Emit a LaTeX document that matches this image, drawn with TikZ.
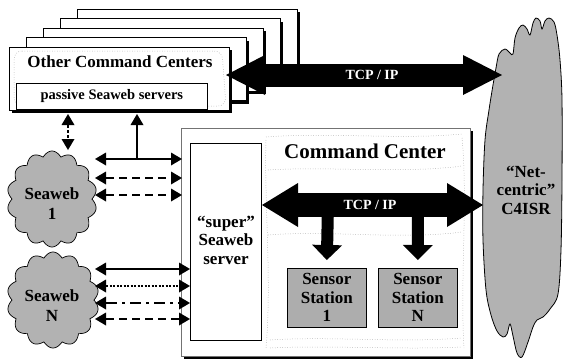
\documentclass[tikz,border=0pt]{standalone}
\usepackage{fontspec}
\setmainfont{Liberation Serif}
\usetikzlibrary{arrows.meta,calc}
\begin{document}
\begin{tikzpicture}[x=1pt,y=-1pt,
  tipS/.tip={Triangle[length=11pt,width=13pt,line width=0pt]},
  linkarr/.style={line width=2.4pt,tipS-tipS},
  uparr/.style={line width=2.4pt,-tipS},
  bigtip/.tip={Triangle[length=39pt,width=40pt,line width=0pt]},
  midtip/.tip={Triangle[length=36pt,width=44pt,line width=0pt]},
  downtip/.tip={Triangle[length=15pt,width=30pt,line width=0pt]},
  bigarr/.style={line width=23pt,bigtip-bigtip},
  midarr/.style={line width=24pt,midtip-midtip},
  downarr/.style={line width=12pt,-downtip},
  whitebox/.style={draw=black,line width=0.7pt,fill=white,inner sep=0pt,anchor=north west},
  sensorbox/.style={draw=black,line width=0.7pt,fill=black!32,inner sep=0pt,anchor=north west,
    minimum width=79pt,minimum height=59pt,align=center,font=\fontsize{17}{18.5}\selectfont\bfseries},
  cloudfill/.style={draw=black,line width=0.7pt,fill=black!30},
  texture/.style={draw=black!45,line width=0.5pt,dotted},
  lbl/.style={font=\fontsize{17}{18.5}\selectfont\bfseries,align=center,inner sep=0pt}
]
\useasboundingbox (0,0) rectangle (565,360);

% stacked other command centers (back to front)
\foreach \i in {4,3,2,1} {
  \fill (9+17*\i+3,47-9.4*\i+3) rectangle (229+17*\i+3,110-9.4*\i+3);
  \draw[fill=white,line width=0.7pt] (9+17*\i,47-9.4*\i) rectangle (229+17*\i,110-9.4*\i);
}
\fill (12,50) rectangle (232,113);
\node[whitebox,minimum width=220pt,minimum height=63pt] (occ) at (9,47) {};
\draw[texture,rounded corners=8pt] (14,51) -- (222,51) -- (226,106) -- (14,106) -- cycle;
\node[lbl,font=\fontsize{17}{18}\selectfont\bfseries] (occt) at (120,62) {Other Command Centers};
\node[whitebox,minimum width=191pt,minimum height=26pt,font=\fontsize{14.5}{16}\selectfont\bfseries] (pass) at (16,83) {passive Seaweb servers};

% Net-centric C4ISR cloud
\draw[cloudfill,line width=0.8pt] plot[smooth cycle,tension=0.55] coordinates {
 (496,68) (499,54) (505,49) (510,53) (513,54) (515,38) (519,28) (523,25) (527,29) (530,35)
 (533,23) (536,18) (540,21) (542,29) (545,21) (549,18) (554,22) (557,35) (560,60) (562,100)
 (562,180) (561,250) (558,294) (550,309) (543,317) (537,320) (533,327) (528,342) (522,357)
 (517,353) (513,336) (510,324) (507,334) (503,337) (497,331) (491,315) (486,290) (483,240)
 (483,190) (485,140) (489,110) (493,85)};
\node[lbl] (c4) at (526,190) {``Net-\\centric''\\C4ISR};

% big TCP/IP arrow
\coordinate (tcpL) at (226,75);
\coordinate (tcpR) at (502,75);
\draw[bigarr] (tcpL) -- (tcpR);
\node[lbl,text=white,font=\fontsize{14}{16}\selectfont\bfseries] (tcp1) at (372,75) {TCP / IP};

% command center
\fill (184,131) rectangle (473,359);
\node[whitebox,draw=black!55,line width=0.6pt,minimum width=289pt,minimum height=228pt] (cc) at (181,128) {};
\draw[texture] (266,137) .. controls (330,132) and (400,140) .. (462,134);
\draw[texture] (268,170) .. controls (330,166) and (400,174) .. (462,166);
\draw[texture] (266,140) .. controls (264,200) and (272,280) .. (266,348);
\draw[texture] (462,138) .. controls (468,200) and (460,280) .. (464,348);
\draw[texture] (268,235) .. controls (330,230) and (400,240) .. (462,232);
\draw[texture] (270,340) .. controls (330,336) and (400,343) .. (462,338);
\draw[texture] (270,348) .. controls (330,345) and (400,350) .. (462,347);
\node[lbl,font=\fontsize{21}{24}\selectfont\bfseries] (cct) at (365,151) {Command Center};

\node[whitebox,minimum width=71pt,minimum height=197pt] (ss) at (190,143) {};
\node[lbl] (sst) at (226,240) {``super''\\Seaweb\\server};

% sensor stations
\node[sensorbox] (s1) at (287,268) {Sensor\\Station\\1};
\node[sensorbox] (sN) at (378,268) {Sensor\\Station\\N};

% inner TCP/IP arrow
\coordinate (tcp2L) at (262,205);
\coordinate (tcp2R) at (483,205);
\draw[midarr] (tcp2L) -- (tcp2R);
\coordinate (d1) at (328,205);
\coordinate (dN) at (418,205);
\draw[downarr] (d1) -- ($(s1.north |- d1)+(0,55)$);
\draw[downarr] (dN) -- ($(sN.north |- dN)+(0,55)$);
\node[lbl,text=white,font=\fontsize{14}{16}\selectfont\bfseries] (tcp2) at (370,205) {TCP / IP};

% Seaweb clouds
\draw[cloudfill] plot[domain=0:360,samples=337,variable=\t]
  ({52+(40+5*abs(sin(7*\t)))*cos(\t)},{199+(43+5*abs(sin(7*\t)))*sin(\t)}) -- cycle;
\node[lbl,font=\fontsize{17}{20}\selectfont\bfseries] (sw1) at (52,204) {Seaweb\\1};
\draw[cloudfill] plot[domain=0:360,samples=337,variable=\t]
  ({53+(41+5*abs(sin(7*\t)))*cos(\t)},{300+(43+5*abs(sin(7*\t)))*sin(\t)}) -- cycle;
\node[lbl,font=\fontsize{17}{20}\selectfont\bfseries] (swN) at (52,306) {Seaweb\\N};

% links
\coordinate (v1t) at (68,114);
\coordinate (v1b) at (68,150);
\draw[linkarr,dash pattern=on 3pt off 2pt] (v1t) -- (v1b);
\coordinate (a1L) at (95,159); \coordinate (a1R) at (182,159);
\coordinate (a2L) at (95,178); \coordinate (a2R) at (182,178);
\coordinate (a3L) at (95,195); \coordinate (a3R) at (182,195);
\coordinate (up) at (137,159);
\coordinate (upT) at (137,114);
\draw[linkarr] (a1L) -- (a1R);
\draw[uparr] (up) -- (upT);
\draw[linkarr,dash pattern=on 8pt off 5pt] (a2L) -- (a2R);
\draw[linkarr,dash pattern=on 8pt off 5pt] (a3L) -- (a3R);

\coordinate (b1L) at (95,269); \coordinate (b1R) at (190,269);
\coordinate (b2L) at (95,286); \coordinate (b2R) at (190,286);
\coordinate (b3L) at (95,303); \coordinate (b3R) at (190,303);
\coordinate (b4L) at (95,319); \coordinate (b4R) at (190,319);
\draw[linkarr] (b1L) -- (b1R);
\draw[linkarr,dash pattern=on 2pt off 1.5pt] (b2L) -- (b2R);
\draw[linkarr,dash pattern=on 11pt off 5pt on 3pt off 5pt] (b3L) -- (b3R);
\draw[linkarr,dash pattern=on 8pt off 5pt] (b4L) -- (b4R);
\end{tikzpicture}
\end{document}
